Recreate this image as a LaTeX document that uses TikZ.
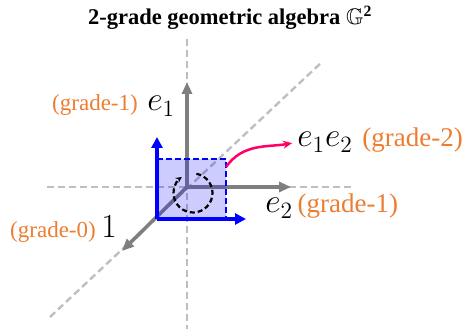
\RequirePackage{fix-cm}
\documentclass[tikz,border=0pt]{standalone}
\usepackage{amssymb}
\usepackage{amsmath}
\usepackage{fontspec}
\setmainfont{Liberation Serif}
\usetikzlibrary{calc,arrows.meta,positioning}
\definecolor{guidegray}{RGB}{191,191,191}
\definecolor{axisgray}{RGB}{127,127,127}
\definecolor{gradeorange}{RGB}{237,125,49}
\definecolor{bivpink}{RGB}{255,0,102}

\begin{document}
\begin{tikzpicture}[x=1pt, y=1pt,
  guide/.style={draw=guidegray, line width=2.4pt, dash pattern=on 7pt off 4pt},
  axis/.style={-{Triangle[length=12pt, width=10pt]}, draw=axisgray, line width=3.6pt},
  basis/.style={-{Triangle[length=11pt, width=11pt]}, draw=blue, line width=3.6pt},
  vec/.style={font=\fontsize{17.28}{20}\selectfont, scale=1.95, inner sep=0pt},
  grade/.style={text=gradeorange, font=\rmfamily\fontsize{23}{26}\selectfont, inner sep=0pt},
  gradebig/.style={grade, font=\rmfamily\fontsize{27}{30}\selectfont}
]
\useasboundingbox (0,0) rectangle (464,-336);
\node[font=\rmfamily\fontsize{22.5}{26}\selectfont\bfseries] (title) at (230,-18) {2-grade geometric algebra $\mathbb{G}^{\mathbf{2}}$};

\coordinate (O) at (187,-187);
\draw[guide] (187,-39) -- (187,-329);
\draw[guide] (47,-187) -- (353,-187);
\draw[guide] (50,-317) -- (322,-62);

\coordinate (e1tip) at (187,-82);
\coordinate (e2tip) at (291,-187);
\coordinate (onetip) at (122,-251);
\draw[axis] (O) -- (e1tip);
\draw[axis] (O) -- (e2tip);
\draw[axis] (O) -- (onetip);

\coordinate (sq0) at (157,-219);
\coordinate (sq1) at (226,-159);
\fill[blue, fill opacity=0.2] (sq0) rectangle (sq1);
\draw[blue, line width=2.6pt, dash pattern=on 6pt off 3pt] (sq0 |- sq1) -- (sq1) -- (sq1 |- sq0);
\draw[basis] (sq0) -- (157,-137);
\draw[basis] (sq0) -- (246,-219);
\draw[line width=2.2pt, dash pattern=on 5pt off 3pt, -{Stealth[length=6pt, width=6pt]}] (193,-193) ++(80:19.5) arc[start angle=80, end angle=-235, radius=19.5];

\node[vec, anchor=base west] (e1) at (147,-111) {$e_1$};
\node[grade, left=9pt of e1.base west, anchor=base east] (g1) {(grade-1)};
\node[vec, anchor=base west] (e1e2) at (297,-147) {$e_1e_2$};
\node[gradebig, right=9pt of e1e2.base east, anchor=base west] (g2) {(grade-2)};
\node[vec, anchor=base west] (e2) at (265,-213) {$e_2$};
\node[gradebig, right=4pt of e2.base east, anchor=base west] (g1b) {(grade-1)};
\node[vec, anchor=base west] (one) at (101,-238) {$1$};
\node[grade, left=5pt of one.base west, anchor=base east] (g0) {(grade-0)};

\draw[bivpink, line width=2.5pt, -{Stealth[length=9pt, width=8pt]}, shorten >=5pt] ($(sq1)+(0,-8)$) to[out=55, in=190] (e1e2.west);
\end{tikzpicture}
\end{document}
